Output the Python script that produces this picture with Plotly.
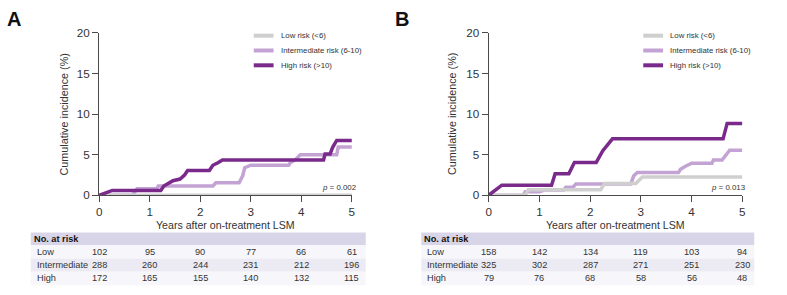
import plotly.graph_objects as go

W, H = 787, 295

# ---------------- data ----------------
years = [0, 1, 2, 3, 4, 5]
y_ticks = [0, 5, 10, 15, 20]
groups = ["Low", "Intermediate", "High"]
legend_names = ["Low risk (<6)", "Intermediate risk (6-10)", "High risk (>10)"]

# Panel A
a_low_x = [0, 5.1]
a_low_y = [0, 0]
a_int_x = [0, 0.66, 0.75, 1.14, 1.17, 2.25, 2.31, 2.77, 2.84, 2.88, 3.0, 3.75, 3.78, 3.88, 3.98, 4.7, 4.73, 5.0]
a_int_y = [0, 0, 0.8, 0.8, 1.15, 1.15, 1.55, 1.55, 2.4, 3.4, 3.7, 3.7, 4.0, 4.35, 5.0, 5.0, 5.95, 5.95]
a_high_x = [0, 0.26, 1.22, 1.28, 1.46, 1.6, 1.69, 1.75, 2.18, 2.25, 2.35, 2.44, 4.44, 4.47, 4.57, 4.62, 4.7, 5.0]
a_high_y = [0, 0.6, 0.6, 1.15, 1.8, 2.0, 2.5, 3.05, 3.05, 3.7, 4.0, 4.35, 4.35, 5.1, 5.1, 5.9, 6.75, 6.75]
a_risk = {"Low": [102, 95, 90, 77, 66, 61],
          "Intermediate": [288, 260, 244, 231, 212, 196],
          "High": [172, 165, 155, 140, 132, 115]}
a_p = "p"
a_pval = " = 0.002"

# Panel B
b_low_x = [0, 0.72, 0.78, 2.21, 2.28, 2.9, 3.03, 5.0]
b_low_y = [0, 0, 0.7, 0.7, 1.45, 1.45, 2.25, 2.25]
b_int_x = [0, 0.68, 0.72, 1.0, 1.1, 1.48, 1.52, 1.66, 1.72, 2.8, 2.86, 2.93, 3.74, 3.78, 3.87, 4.0, 4.4, 4.43, 4.6, 4.65, 4.75, 5.0]
b_int_y = [0, 0, 0.45, 0.45, 0.65, 0.65, 1.0, 1.0, 1.4, 1.4, 2.4, 2.8, 2.8, 3.2, 3.55, 3.95, 3.95, 4.35, 4.35, 4.8, 5.55, 5.55]
b_high_x = [0, 0.26, 1.24, 1.31, 1.58, 1.69, 2.12, 2.25, 2.44, 4.62, 4.7, 5.0]
b_high_y = [0, 1.25, 1.25, 2.65, 2.65, 4.05, 4.05, 5.5, 6.95, 6.95, 8.85, 8.85]
b_risk = {"Low": [158, 142, 134, 119, 103, 94],
          "Intermediate": [325, 302, 287, 271, 251, 230],
          "High": [79, 76, 68, 58, 56, 48]}
b_pval = " = 0.013"

# ---------------- styles ----------------
FONT = "Liberation Sans, Arial, sans-serif"
C_LOW = "#cfcfcf"
C_INT = "#c3a3d4"
C_HIGH = "#7a2a8a"
AX = "#4a4a4a"
TXT = "#333333"
LW = 3.5


def px(x):
    return x / W


def py(y):
    return 1 - y / H


plot_top, plot_bot = 27, 197
panels = [
    dict(xa="x", ya="y", x0=97, x1=352, label="A", label_x=2,
         data=[(a_int_x, a_int_y, C_INT), (a_low_x, a_low_y, C_LOW), (a_high_x, a_high_y, C_HIGH)],
         risk=a_risk, p=a_pval, ytitle_x=62, tab_x0=28, tab_x1=366, tab_lab=30),
    dict(xa="x2", ya="y2", x0=490, x1=746, label="B", label_x=393,
         data=[(b_int_x, b_int_y, C_INT), (b_low_x, b_low_y, C_LOW), (b_high_x, b_high_y, C_HIGH)],
         risk=b_risk, p=b_pval, ytitle_x=453, tab_x0=422, tab_x1=758, tab_lab=424),
]

fig = go.Figure()
shapes = []
ann = []

for i, P in enumerate(panels):
    for (xs, ys, col) in P["data"]:
        fig.add_trace(go.Scatter(x=xs, y=ys, mode="lines", xaxis=P["xa"], yaxis=P["ya"],
                                 line=dict(color=col, width=LW), cliponaxis=False,
                                 showlegend=False, hoverinfo="skip"))
    sfx = "" if i == 0 else "2"
    axcommon = dict(showgrid=False, zeroline=False, showline=True, linecolor=AX, linewidth=1,
                    ticks="outside", ticklen=6, tickcolor=AX, tickwidth=1,
                    tickfont=dict(family=FONT, size=11.7, color=TXT))
    fig.layout["xaxis" + sfx] = dict(axcommon, domain=[px(P["x0"]), px(P["x1"])], range=[0, 5],
                                      tickvals=years, anchor="y" + sfx)
    fig.layout["yaxis" + sfx] = dict(axcommon, domain=[py(plot_bot), py(plot_top)], range=[0, 20],
                                      tickvals=y_ticks, anchor="x" + sfx)

    # panel label
    ann.append(dict(text="<b>%s</b>" % P["label"], x=px(P["label_x"]), y=py(12.5), xref="paper", yref="paper",
                    xanchor="left", yanchor="middle", showarrow=False,
                    font=dict(family=FONT, size=20, color="#111111")))
    # axis titles
    ann.append(dict(text="Cumulative incidence (%)", x=px(P["ytitle_x"]), y=py((plot_top + plot_bot) / 2),
                    xref="paper", yref="paper", textangle=-90, showarrow=False,
                    xanchor="center", yanchor="middle", font=dict(family=FONT, size=10.8, color=TXT)))
    ann.append(dict(text="Years after on-treatment LSM", x=2.5, xref=P["xa"], y=py(228), yref="paper",
                    showarrow=False, xanchor="center", yanchor="middle",
                    font=dict(family=FONT, size=10.6, color=TXT)))
    # p value
    ann.append(dict(text="<i>p</i>" + P["p"], x=px(P["x1"] + 6), y=py(189), xref="paper", yref="paper",
                    xanchor="right", yanchor="middle", showarrow=False,
                    font=dict(family=FONT, size=7.9, color=TXT)))
    # legend
    lx0 = P["x0"] + 156
    for k, (nm, col) in enumerate(zip(legend_names, [C_LOW, C_INT, C_HIGH])):
        yy = [30, 45.5, 61][k]
        shapes.append(dict(type="line", xref="paper", yref="paper", x0=px(lx0), x1=px(lx0 + 20),
                           y0=py(yy), y1=py(yy), line=dict(color=col, width=4)))
        ann.append(dict(text=nm, x=px(lx0 + 25), y=py(yy), xref="paper", yref="paper",
                        xanchor="left", yanchor="middle", showarrow=False,
                        font=dict(family=FONT, size=7.8, color=TXT)))
    # risk table
    rows = [(236, 249, "#d9d5e8"), (249, 263, "#f7f6fa"), (263, 277, "#ecebf3"), (277, 291, "#f7f6fa")]
    for (t, b, col) in rows:
        shapes.append(dict(type="rect", xref="paper", yref="paper", x0=px(P["tab_x0"]), x1=px(P["tab_x1"]),
                           y0=py(b), y1=py(t), fillcolor=col, line=dict(width=0), layer="below"))
    ann.append(dict(text="<b>No. at risk</b>", x=px(P["tab_x0"] + 1), y=py(242.5), xref="paper", yref="paper",
                    xanchor="left", yanchor="middle", showarrow=False,
                    font=dict(family=FONT, size=9.2, color="#111111")))
    for r, g in enumerate(groups):
        yy = [256, 270, 284][r]
        ann.append(dict(text=g, x=px(P["tab_lab"] + 2), y=py(yy), xref="paper", yref="paper",
                        xanchor="left", yanchor="middle", showarrow=False,
                        font=dict(family=FONT, size=9.2, color=TXT)))
        for yr, v in zip(years, P["risk"][g]):
            ann.append(dict(text=str(v), x=yr, xref=P["xa"], y=py(yy), yref="paper",
                            xanchor="center", yanchor="middle", showarrow=False,
                            font=dict(family=FONT, size=9.2, color=TXT)))

fig.update_layout(width=W, height=H, margin=dict(l=0, r=0, t=0, b=0),
                  paper_bgcolor="white", plot_bgcolor="white",
                  shapes=shapes, annotations=ann, showlegend=False)

fig.write_html("out.html")
